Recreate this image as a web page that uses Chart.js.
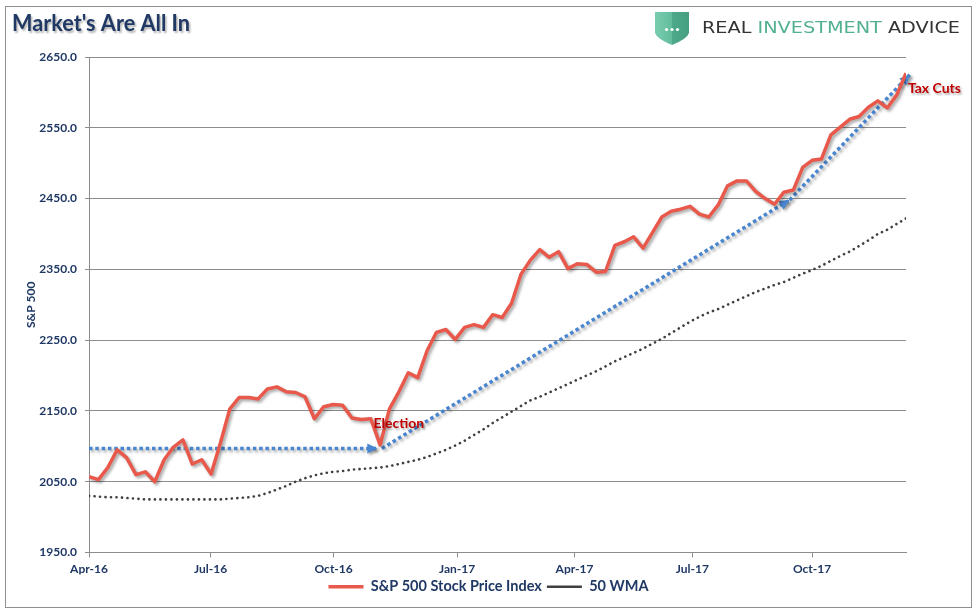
<!DOCTYPE html>
<html>
<head>
<meta charset="utf-8">
<title>Market's Are All In</title>
<script src="https://cdn.jsdelivr.net/npm/chart.js@4.4.0/dist/chart.umd.min.js"></script>
<style>
  html, body { margin: 0; padding: 0; background: #fff; }
  #wrap { width: 977px; height: 614px; position: relative; }
</style>
</head>
<body>
<div id="wrap"><canvas id="line-chart"></canvas></div>
<script>
// weekly S&P 500, Apr 2016 - Dec 2017
var spx = [2057, 2053, 2070, 2095, 2084, 2060, 2064, 2050, 2081, 2099,
           2109, 2075, 2081, 2061, 2105, 2153, 2169, 2169, 2167, 2181,
           2184, 2177, 2176, 2170, 2139, 2156, 2159, 2158, 2140, 2138,
           2139, 2102, 2153, 2177, 2204, 2197, 2235, 2261, 2265, 2251,
           2268, 2272, 2268, 2286, 2282, 2302, 2343, 2363, 2378, 2367,
           2375, 2351, 2358, 2357, 2346, 2347, 2384, 2389, 2396, 2380,
           2402, 2424, 2432, 2435, 2439, 2428, 2424, 2441, 2468, 2475,
           2475, 2460, 2450, 2442, 2459, 2462, 2494, 2504, 2506, 2540,
           2551, 2562, 2566, 2579, 2588, 2578, 2596, 2627];

var wma50 = [2030, 2029, 2028, 2028, 2027, 2026, 2025, 2025, 2025, 2025,
             2025, 2025, 2025, 2025, 2025, 2026, 2027, 2028, 2030, 2034,
             2039, 2044, 2050, 2055, 2059, 2062, 2064, 2065, 2067, 2068,
             2069, 2070, 2072, 2075, 2078, 2081, 2085, 2090, 2095, 2101,
             2108, 2116, 2124, 2133, 2141, 2149, 2157, 2165, 2170, 2176,
             2182, 2188, 2194, 2200, 2206, 2213, 2220, 2226, 2232, 2238,
             2245, 2252, 2260, 2268, 2276, 2283, 2289, 2294, 2300, 2306,
             2312, 2318, 2323, 2328, 2332, 2338, 2344, 2349, 2355, 2362,
             2369, 2375, 2383, 2391, 2400, 2406, 2414, 2422];

var weeks = spx.map(function (v, i) { return i; });

// quarter ticks, in weeks from the first point
var tickWeeks = [0, 12.95, 26.05, 39.2, 51.7, 64.25, 77.0];
var tickLabels = ["Apr-16", "Jul-16", "Oct-16", "Jan-17", "Apr-17", "Jul-17", "Oct-17"];

// hand drawn trend arrows (week, index level)
var arrowFlat = [{x: 0, y: 2097}, {x: 30.7, y: 2097}];
var arrowRally = [{x: 31.2, y: 2097}, {x: 74.6, y: 2448}];
var arrowTax = [{x: 74.6, y: 2448}, {x: 87.4, y: 2625}];

var notes = [
  {text: "Election", x: 30.3, y: 2132},
  {text: "Tax Cuts", x: 87.2, y: 2605}
];

var navy = "#1f3864";
var gridGray = "#8c8c8c";

var shadowPlugin = {
  id: "shadows",
  beforeDatasetDraw: function (chart, args) {
    var ds = chart.data.datasets[args.index];
    if (!ds.shadow) return;
    var ctx = chart.ctx;
    ctx.save();
    ctx.shadowColor = "rgba(0,0,0,0.35)";
    ctx.shadowBlur = 3;
    ctx.shadowOffsetX = 2;
    ctx.shadowOffsetY = 2;
  },
  afterDatasetDraw: function (chart, args) {
    var ds = chart.data.datasets[args.index];
    if (!ds.shadow) return;
    var ctx = chart.ctx;
    if (ds.arrowHead) {
      var pts = args.meta.data;
      var a = pts[pts.length - 2], b = pts[pts.length - 1];
      ctx.setLineDash([]);
      ctx.fillStyle = ds.borderColor;
      ctx.translate(b.x, b.y);
      ctx.rotate(Math.atan2(b.y - a.y, b.x - a.x));
      ctx.beginPath();
      ctx.moveTo(0, 0);
      ctx.lineTo(-10, -5);
      ctx.lineTo(-10, 5);
      ctx.closePath();
      ctx.fill();
    }
    ctx.restore();
  }
};

function drawLogo(ctx) {
  ctx.save();
  var g = ctx.createLinearGradient(655, 0, 689, 0);
  g.addColorStop(0, "#7acdb0");
  g.addColorStop(0.5, "#62bd9c");
  g.addColorStop(0.5, "#4ea98a");
  g.addColorStop(1, "#459f80");
  ctx.fillStyle = g;
  ctx.beginPath();
  ctx.moveTo(655, 12);
  ctx.lineTo(689, 12);
  ctx.lineTo(689, 33);
  ctx.quadraticCurveTo(687, 39, 672, 45);
  ctx.quadraticCurveTo(657, 39, 655, 33);
  ctx.closePath();
  ctx.fill();
  ctx.fillStyle = "#fff";
  [666.5, 672, 677.5].forEach(function (cx) {
    ctx.beginPath();
    ctx.arc(cx, 29.5, 1.6, 0, Math.PI * 2);
    ctx.fill();
  });

  var parts = [["REAL ", "#333333"], ["INVESTMENT", "#52b18f"], [" ADVICE", "#333333"]];
  ctx.font = "16px 'DejaVu Sans'";
  ctx.textBaseline = "alphabetic";
  var full = ctx.measureText("REAL INVESTMENT ADVICE").width;
  var sx = 258 / full;
  ctx.translate(702, 33);
  ctx.scale(sx, 1);
  var px = 0;
  parts.forEach(function (p) {
    ctx.fillStyle = p[1];
    ctx.fillText(p[0], px, 0);
    px += ctx.measureText(p[0]).width;
  });
  ctx.restore();
}

var decorPlugin = {
  id: "decor",
  beforeDraw: function (chart) {
    var ctx = chart.ctx;
    ctx.save();
    ctx.fillStyle = "#fff";
    ctx.fillRect(0, 0, chart.width, chart.height);
    ctx.restore();
  },
  afterDraw: function (chart) {
    var ctx = chart.ctx, xs = chart.scales.x, ys = chart.scales.y;
    ctx.save();
    ctx.strokeStyle = "#8f8f8f";
    ctx.lineWidth = 1;
    ctx.strokeRect(5.5, 6.5, 966, 601);

    ctx.shadowColor = "rgba(0,0,0,0.3)";
    ctx.shadowBlur = 2;
    ctx.shadowOffsetX = 1.5;
    ctx.shadowOffsetY = 1.5;
    ctx.fillStyle = navy;
    ctx.font = "bold 23px Lato";
    ctx.textBaseline = "alphabetic";
    ctx.fillText("Market's Are All In", 12, 31, 178);

    ctx.fillStyle = "#c00000";
    ctx.font = "bold 14px Lato";
    ctx.textBaseline = "middle";
    notes.forEach(function (n) {
      ctx.fillText(n.text, xs.getPixelForValue(n.x), ys.getPixelForValue(n.y));
    });
    ctx.restore();
    drawLogo(ctx);
  }
};

var grafic = document.getElementById("line-chart").getContext("2d");

var arrowStyle = {
  borderColor: "#4a86cf",
  borderWidth: 3.5,
  borderDash: [3.5, 2.8],
  pointRadius: 0,
  shadow: true,
  arrowHead: true,
  clip: false
};

var myChart = new Chart(grafic, {
  type: "line",
  data: {
    labels: weeks,
    datasets: [
      {
        label: "S&P 500 Stock Price Index",
        data: spx,
        borderColor: "#e8584b",
        backgroundColor: "#e8584b",
        borderWidth: 3.5,
        borderJoinStyle: "round",
        pointRadius: 0,
        shadow: true
      },
      {
        label: "50 WMA",
        data: wma50,
        borderColor: "#404040",
        backgroundColor: "#404040",
        borderWidth: 2.6,
        borderCapStyle: "round",
        borderDash: [0.1, 5.4],
        pointRadius: 0
      },
      Object.assign({data: arrowFlat}, arrowStyle),
      Object.assign({data: arrowRally}, arrowStyle),
      Object.assign({data: arrowTax}, arrowStyle)
    ]
  },
  options: {
    responsive: true,
    maintainAspectRatio: false,
    animation: false,
    layout: { padding: { top: 57, left: 5, right: 5, bottom: 10 } },
    plugins: {
      title: { display: false },
      tooltip: { enabled: false },
      legend: {
        position: "bottom",
        labels: {
          filter: function (item) { return !!item.text; },
          usePointStyle: true,
          pointStyle: "line",
          pointStyleWidth: 35,
          boxHeight: 13,
          padding: 5,
          color: navy,
          font: { family: "Lato", size: 14.5, weight: "bold" }
        }
      }
    },
    scales: {
      x: {
        type: "linear",
        min: 0,
        max: 87,
        afterBuildTicks: function (scale) {
          scale.ticks = tickWeeks.map(function (v) { return { value: v }; });
        },
        afterFit: function (scale) { scale.height = 22; },
        grid: { drawOnChartArea: false, color: gridGray, tickLength: 5 },
        border: { color: gridGray },
        ticks: {
          autoSkip: false,
          maxRotation: 0,
          padding: 4,
          color: navy,
          font: { family: "Lato", size: 12, weight: "bold" },
          callback: function (v, i) { return tickLabels[i]; }
        }
      },
      y: {
        min: 1950,
        max: 2650,
        afterFit: function (scale) { scale.width = 84; },
        grid: { color: gridGray, tickLength: 4 },
        border: { color: gridGray },
        title: {
          display: true,
          text: "S&P 500",
          color: navy,
          padding: { top: 19, bottom: 0 },
          font: { family: "Lato", size: 12, weight: "bold" }
        },
        ticks: {
          stepSize: 100,
          padding: 8,
          color: navy,
          font: { family: "Lato", size: 12, weight: "bold" },
          callback: function (v) { return v.toFixed(1); }
        }
      },
      // empty right-hand gutter so the legend centres on the whole frame
      gutter: {
        type: "linear",
        position: "right",
        afterFit: function (scale) { scale.width = 66; },
        grid: { display: false },
        border: { display: false },
        ticks: { display: false }
      }
    }
  },
  plugins: [shadowPlugin, decorPlugin]
});
</script>
</body>
</html>
